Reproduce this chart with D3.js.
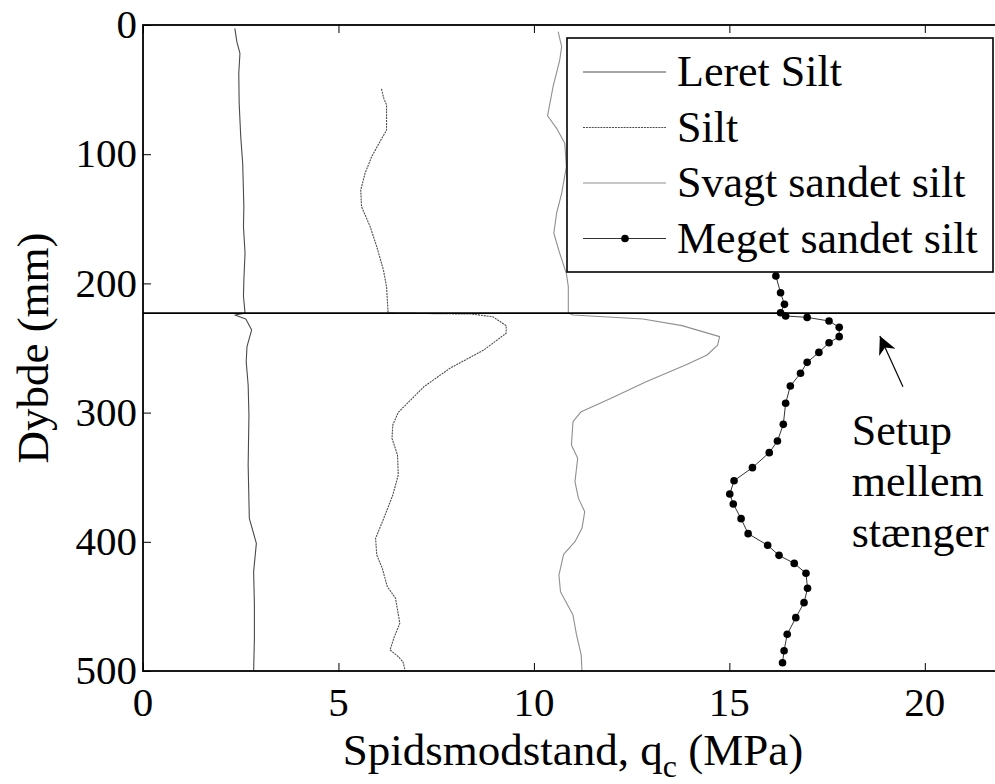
<!DOCTYPE html>
<html><head><meta charset="utf-8"><script src="https://cdn.jsdelivr.net/npm/d3@7"></script></head>
<body style="margin:0">
<svg id="chart" width="995" height="784"></svg>
<script>
// ---------- DATA ----------
const seriesNames = ["Leret Silt", "Silt", "Svagt sandet silt", "Meget sandet silt"];

// Leret Silt (depth mm, qc MPa)
const leretDepth = [2.6, 12.9, 21.9, 37.4, 60.6, 86.4, 107, 140.6, 156, 176.7, 197.4, 210, 223,
  224.5, 227.6, 236, 249, 260.6, 278.6, 301.9, 340.6, 381.8, 401.2, 423.1, 448.9, 474.7, 500];
const leretQc = [2.35, 2.40, 2.48, 2.45, 2.46, 2.50, 2.55, 2.58, 2.57, 2.61, 2.58, 2.57, 2.61,
  2.35, 2.63, 2.78, 2.66, 2.64, 2.69, 2.71, 2.69, 2.72, 2.90, 2.83, 2.85, 2.85, 2.83];

// Silt
const siltDepth = [49.5, 56.8, 61.9, 81.3, 90.3, 101.9, 114.8, 127.7, 140.6, 156, 171.6, 189.6, 202.5, 223,
  223.7, 225.8, 232.7, 238.6, 251.5, 265.7, 279.9, 299.8, 309.6, 319.9, 332.8, 348.3, 363.8, 381.8,
  397.3, 410.2, 420.5, 434.7, 443.7, 463.1, 473.4, 483.7, 488.9, 492.8, 500];
const siltQc = [6.10, 6.16, 6.23, 6.23, 6.06, 5.85, 5.68, 5.57, 5.59, 5.81, 5.98, 6.15, 6.23, 6.27,
  8.40, 8.95, 9.29, 9.29, 8.72, 7.85, 7.19, 6.53, 6.39, 6.37, 6.51, 6.53, 6.39, 6.16,
  5.95, 5.98, 6.12, 6.25, 6.46, 6.57, 6.43, 6.32, 6.53, 6.65, 6.71];

// Svagt sandet silt
const svagtDepth = [5.2, 16.8, 27.1, 47.7, 70.2, 80, 91.6, 109.7, 130.3, 145.7, 161.2, 176.7, 192.2, 202.5, 223,
  224.5, 225.8, 227.6, 232.7, 241.2, 247.7, 255.4, 263.2, 276.1, 289, 299.3, 307, 325, 335.4, 353.5,
  366.4, 376.7, 389.6, 399.9, 409.7, 425.7, 438.6, 456.7, 472.1, 487.6, 500];
const svagtQc = [10.62, 10.71, 10.66, 10.49, 10.35, 10.58, 10.79, 10.83, 10.71, 10.58, 10.51, 10.66, 10.83, 10.88, 10.88,
  11.00, 11.78, 12.79, 13.79, 14.75, 14.70, 14.43, 13.88, 12.87, 11.96, 11.21, 11.00, 10.96, 11.12, 11.05,
  11.14, 11.30, 11.23, 11.05, 10.76, 10.64, 10.68, 11.00, 11.09, 11.21, 11.23];

// Meget sandet silt (with markers)
const megetDepth = [194.3, 207.2, 216.2, 222.7, 225.2, 226.3, 229.1, 234.0, 241.2, 245.9, 253.4, 261.1, 269.6,
  279.4, 292.8, 309.1, 322.0, 331.0, 342.6, 352.7, 363.0, 370.7, 382.1, 393.7, 402.7, 410.5, 416.7,
  424.4, 436.0, 447.1, 458.7, 471.6, 484.3, 493.6];
const megetQc = [16.19, 16.31, 16.41, 16.31, 16.44, 16.99, 17.55, 17.81, 17.81, 17.55, 17.29, 16.99, 16.82,
  16.56, 16.44, 16.38, 16.23, 16.02, 15.59, 15.12, 15.01, 15.10, 15.30, 15.48, 15.98, 16.27, 16.66,
  16.96, 17.00, 16.91, 16.70, 16.48, 16.40, 16.36];

// Boundary between setups (depth, mm)
const boundaryDepth = 223;

// Ticks
const xTicks = [0, 5, 10, 15, 20];
const yTicks = [0, 100, 200, 300, 400, 500];

// Annotation
const annoLines = ["Setup", "mellem", "stænger"];

// ---------- LAYOUT ----------
const FONT = "Liberation Serif";
const BASE = 30; // text is set at this size and scaled up
const svg = d3.select("#chart");
svg.append("rect").attr("width", 995).attr("height", 784).attr("fill", "#fff");

const pLeft = 143, pRight = 1003, pTop = 25, pBottom = 671;
const x = d3.scaleLinear().domain([0, 22]).range([pLeft, pRight]);
const y = d3.scaleLinear().domain([0, 500]).range([pTop, pBottom]);

const tickFont = 41, labelFont = 45, legendFont = 44;

function addText(parent, str, size, tx, ty, anchor, rot) {
  const k = size / BASE;
  const g = parent.append("g")
    .attr("transform", `translate(${tx},${ty}) rotate(${rot || 0}) scale(${k})`);
  const t = g.append("text")
    .attr("font-family", FONT).attr("font-size", BASE)
    .style("font-family", FONT).style("font-size", BASE + "px")
    .attr("text-anchor", anchor || "start").attr("fill", "#000");
  if (str !== null) t.text(str);
  return t;
}

// ---------- DATA LINES ----------
const series = [
  { name: seriesNames[0], depth: leretDepth, qc: leretQc, color: "#4a4a4a", dash: null, width: 1.1, marker: false },
  { name: seriesNames[1], depth: siltDepth, qc: siltQc, color: "#4d4d4d", dash: "2,0.9", width: 1.1, marker: false },
  { name: seriesNames[2], depth: svagtDepth, qc: svagtQc, color: "#8f8f8f", dash: null, width: 1.1, marker: false },
  { name: seriesNames[3], depth: megetDepth, qc: megetQc, color: "#333", dash: null, width: 1.0, marker: true }
];

const line = d3.line().x(d => x(d[1])).y(d => y(d[0]));

const plot = svg.append("g");
series.forEach(s => {
  const pts = s.depth.map((d, i) => [d, s.qc[i]]);
  plot.append("path")
    .attr("d", line(pts))
    .attr("fill", "none")
    .attr("stroke", s.color)
    .attr("stroke-width", s.width)
    .attr("stroke-dasharray", s.dash)
    .attr("stroke-linejoin", "round");
  if (s.marker) {
    plot.selectAll(null).data(pts).enter().append("circle")
      .attr("cx", d => x(d[1])).attr("cy", d => y(d[0]))
      .attr("r", 3.8).attr("fill", "#000");
  }
});

// boundary line
svg.append("line")
  .attr("x1", pLeft).attr("x2", pRight)
  .attr("y1", y(boundaryDepth)).attr("y2", y(boundaryDepth))
  .attr("stroke", "#000").attr("stroke-width", 1.6);

// ---------- AXES (tick marks) ----------
const xAxisB = d3.axisBottom(x).tickValues(xTicks).tickSize(-8).tickFormat("");
const xAxisT = d3.axisTop(x).tickValues(xTicks).tickSize(-8).tickFormat("");
const yAxisL = d3.axisLeft(y).tickValues(yTicks).tickSize(-8).tickFormat("");
const yAxisR = d3.axisRight(y).tickValues(yTicks).tickSize(-8).tickFormat("");

function styleAxis(g) {
  g.select(".domain").remove();
  g.selectAll(".tick line").attr("stroke", "#000").attr("stroke-width", 1);
  g.selectAll(".tick text").remove();
}
svg.append("g").attr("transform", `translate(0,${pBottom})`).call(xAxisB).call(styleAxis);
svg.append("g").attr("transform", `translate(0,${pTop})`).call(xAxisT).call(styleAxis);
svg.append("g").attr("transform", `translate(${pLeft},0)`).call(yAxisL).call(styleAxis);
svg.append("g").attr("transform", `translate(${pRight},0)`).call(yAxisR).call(styleAxis);

// tick labels from the same scales
const tickLabels = svg.append("g");
xTicks.forEach(v => addText(tickLabels, String(v), tickFont, x(v), pBottom + 45, "middle"));
yTicks.forEach(v => addText(tickLabels, String(v), tickFont, pLeft - 6, y(v) + 0.32 * tickFont, "end"));

// axes box
svg.append("rect")
  .attr("x", pLeft).attr("y", pTop).attr("width", pRight - pLeft).attr("height", pBottom - pTop)
  .attr("fill", "none").attr("stroke", "#000").attr("stroke-width", 1.8);

// axis titles
const xt = addText(svg, null, labelFont, (pLeft + pRight) / 2, 765, "middle");
xt.append("tspan").text("Spidsmodstand, q");
xt.append("tspan").attr("dy", 8).attr("font-size", 21.3).style("font-size", "21.3px").text("c");
xt.append("tspan").attr("dy", -8).text(" (MPa)");

addText(svg, "Dybde (mm)", labelFont, 48, (pTop + pBottom) / 2, "middle", -90);

// ---------- LEGEND ----------
const lg = svg.append("g");
lg.append("rect").attr("x", 567).attr("y", 38).attr("width", 426).attr("height", 234)
  .attr("fill", "#fff").attr("stroke", "#000").attr("stroke-width", 1.6);
series.forEach((s, i) => {
  const ly = 72 + i * 55.5;
  lg.append("line").attr("x1", 583).attr("x2", 666).attr("y1", ly).attr("y2", ly)
    .attr("stroke", s.color).attr("stroke-width", s.width).attr("stroke-dasharray", s.dash);
  if (s.marker) lg.append("circle").attr("cx", 625).attr("cy", ly).attr("r", 3.8).attr("fill", "#000");
  addText(lg, s.name, legendFont, 677, ly + 14, "start");
});

// ---------- ANNOTATION ----------
const defs = svg.append("defs");
defs.append("marker").attr("id", "arr").attr("viewBox", "0 0 10 10")
  .attr("refX", 10).attr("refY", 5).attr("markerWidth", 24).attr("markerHeight", 18)
  .attr("markerUnits", "userSpaceOnUse").attr("orient", "auto")
  .append("path").attr("d", "M0,0 L10,5 L0,10 L3,5 Z").attr("fill", "#000");

svg.append("line")
  .attr("x1", x(19.44)).attr("y1", y(280))
  .attr("x2", x(18.85)).attr("y2", y(240.7))
  .attr("stroke", "#000").attr("stroke-width", 1.2).attr("marker-end", "url(#arr)");

annoLines.forEach((t, i) => {
  addText(svg, t, legendFont, x(18.13), y(325) + i * 51, "start");
});
</script>
</body>
</html>
